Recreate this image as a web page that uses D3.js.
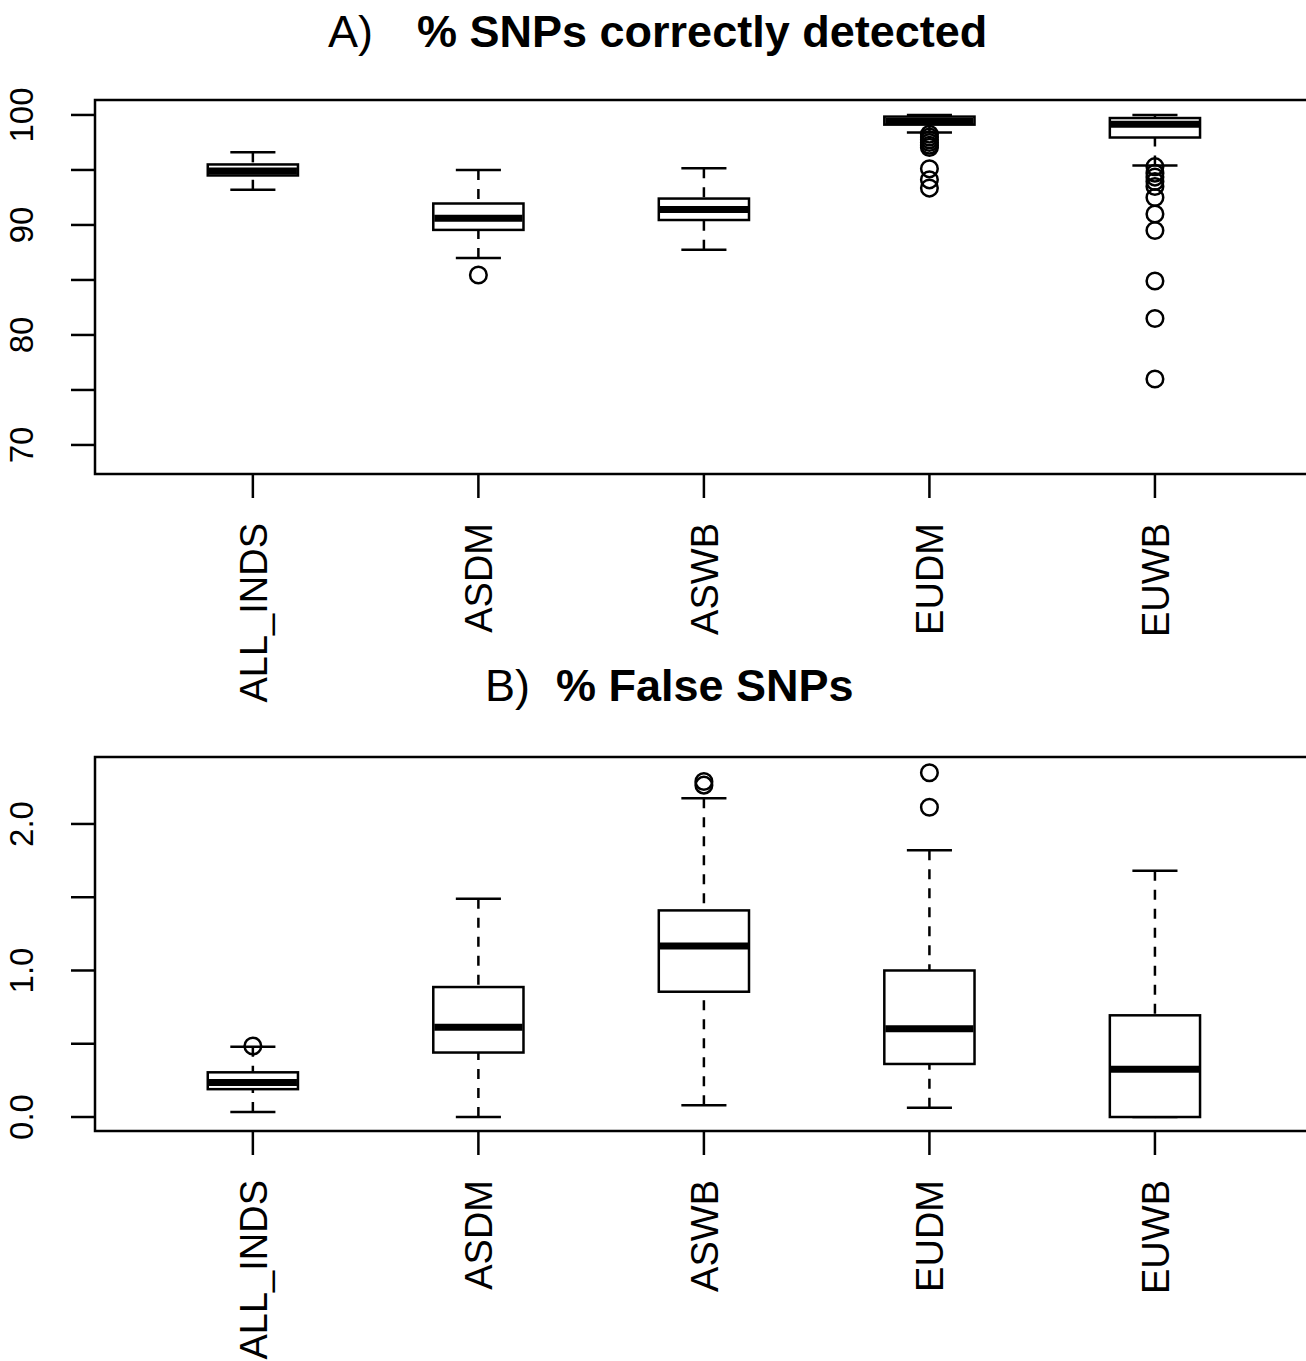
<!DOCTYPE html>
<html>
<head>
<meta charset="utf-8">
<script src="https://cdn.jsdelivr.net/npm/d3@7"></script>
<style>
    body { margin: 0; background: #fff; }
    text { font-family: "Liberation Sans", Arial, Helvetica, sans-serif; fill: #000; }
</style>
</head>
<body>
<svg id="viz"></svg>
<script>
// groups along the x axis
var categories = ["ALL_INDS", "ASDM", "ASWB", "EUDM", "EUWB"]

// A) % SNPs correctly detected  (read off the picture)
var detectedLower  = [93.2, 87.0, 87.75, 98.4, 95.4]
var detectedQ1     = [94.5, 89.55, 90.45, 99.12, 97.95]
var detectedMedian = [94.9, 90.6, 91.4, 99.4, 99.15]
var detectedQ3     = [95.5, 91.95, 92.4, 99.85, 99.72]
var detectedUpper  = [96.6, 95.0, 95.15, 100.0, 100.0]
var detectedOutliers = [
    [],
    [85.45],
    [],
    [98.25, 98.0, 97.75, 97.5, 97.25, 97.05, 95.1, 94.1, 93.35],
    [95.3, 94.7, 94.35, 93.95, 93.5, 92.5, 91.0, 89.5, 84.9, 81.5, 76.0]
]
var detectedTicks = [70, 75, 80, 85, 90, 95, 100]
var detectedTickLabels = ["70", "", "80", "", "90", "", "100"]

// B) % False SNPs
var falseLower  = [0.035, 0.0, 0.08, 0.064, 0.0]
var falseQ1     = [0.19, 0.44, 0.855, 0.362, 0.0]
var falseMedian = [0.235, 0.612, 1.167, 0.603, 0.326]
var falseQ3     = [0.305, 0.887, 1.41, 1.0, 0.694]
var falseUpper  = [0.48, 1.49, 2.175, 1.82, 1.68]
var falseOutliers = [
    [0.485],
    [],
    [2.265, 2.29],
    [2.114, 2.35],
    []
]
var falseTicks = [0, 0.5, 1, 1.5, 2]
var falseTickLabels = ["0.0", "", "1.0", "", "2.0"]

var dimensions = {
    width: 1306,
    height: 1361,
    left: 95,
    lineWidth: 2.5,
    tickLength: 24,
    yFont: 33,
    xFont: 38,
    titleFont: 45
}

var svg = d3.select("#viz")
    .attr("width", dimensions.width)
    .attr("height", dimensions.height)

// R style x axis: groups at 1..n, range padded to 0.3..5.7
var xScale = d3.scaleLinear()
               .domain([0.3, 5.7])
               .range([dimensions.left, 1312.8])
var boxHalf = xScale(1.2) - xScale(1)
var capHalf = boxHalf / 2

function drawPanel(p) {
    var yScale = d3.scaleLinear()
                   .domain(p.domain)
                   .range([p.bottom, p.top])

    var stats = categories.map((c, i) => ({
        name: c, i: i + 1,
        lo: p.lower[i], q1: p.q1[i], med: p.median[i], q3: p.q3[i], hi: p.upper[i],
        out: p.outliers[i]
    }))

    var g = svg.append("g")

    var boxes = g.selectAll(".box")
                 .data(stats)
                 .enter()
                 .append("g")
                 .attr("class", "box")

    // whiskers go from the cap toward the box, dashed
    boxes.append("line")
         .attr("x1", d => xScale(d.i)).attr("x2", d => xScale(d.i))
         .attr("y1", d => yScale(d.hi)).attr("y2", d => yScale(d.q3))
         .attr("stroke", "#000").attr("stroke-width", dimensions.lineWidth)
         .attr("stroke-dasharray", "10,9")
    boxes.append("line")
         .attr("x1", d => xScale(d.i)).attr("x2", d => xScale(d.i))
         .attr("y1", d => yScale(d.lo)).attr("y2", d => yScale(d.q1))
         .attr("stroke", "#000").attr("stroke-width", dimensions.lineWidth)
         .attr("stroke-dasharray", "10,9")

    // staples
    boxes.selectAll(".cap")
         .data(d => [{i: d.i, v: d.hi}, {i: d.i, v: d.lo}])
         .enter()
         .append("line")
         .attr("class", "cap")
         .attr("x1", d => xScale(d.i) - capHalf)
         .attr("x2", d => xScale(d.i) + capHalf)
         .attr("y1", d => yScale(d.v)).attr("y2", d => yScale(d.v))
         .attr("stroke", "#000").attr("stroke-width", dimensions.lineWidth)

    boxes.append("rect")
         .attr("x", d => xScale(d.i) - boxHalf)
         .attr("width", 2 * boxHalf)
         .attr("y", d => yScale(d.q3))
         .attr("height", d => Math.max(0, yScale(d.q1) - yScale(d.q3)))
         .attr("fill", "#fff")
         .attr("stroke", "#000").attr("stroke-width", dimensions.lineWidth)

    boxes.append("line")
         .attr("x1", d => xScale(d.i) - boxHalf + 1)
         .attr("x2", d => xScale(d.i) + boxHalf - 1)
         .attr("y1", d => yScale(d.med)).attr("y2", d => yScale(d.med))
         .attr("stroke", "#000").attr("stroke-width", 7)

    boxes.selectAll(".outlier")
         .data(d => d.out.map(v => ({i: d.i, v: v})))
         .enter()
         .append("circle")
         .attr("class", "outlier")
         .attr("cx", d => xScale(d.i))
         .attr("cy", d => yScale(d.v))
         .attr("r", 8.3)
         .attr("fill", "none")
         .attr("stroke", "#000").attr("stroke-width", dimensions.lineWidth)

    // frame (right side falls just outside the picture)
    g.append("rect")
     .attr("x", dimensions.left)
     .attr("y", p.top)
     .attr("width", xScale.range()[1] - dimensions.left)
     .attr("height", p.bottom - p.top)
     .attr("fill", "none")
     .attr("stroke", "#000").attr("stroke-width", dimensions.lineWidth)

    // y axis ticks + rotated labels
    g.selectAll(".ytick")
     .data(p.ticks)
     .enter()
     .append("line")
     .attr("x1", dimensions.left - dimensions.tickLength)
     .attr("x2", dimensions.left)
     .attr("y1", d => yScale(d)).attr("y2", d => yScale(d))
     .attr("stroke", "#000").attr("stroke-width", dimensions.lineWidth)

    g.selectAll(".ylab")
     .data(p.ticks)
     .enter()
     .append("text")
     .attr("text-anchor", "middle")
     .attr("font-size", dimensions.yFont)
     .attr("transform", d => `translate(33, ${yScale(d)}) rotate(-90)`)
     .text((d, i) => p.tickLabels[i])

    // x axis ticks + rotated group names
    g.selectAll(".xtick")
     .data(stats)
     .enter()
     .append("line")
     .attr("x1", d => xScale(d.i)).attr("x2", d => xScale(d.i))
     .attr("y1", p.bottom).attr("y2", p.bottom + dimensions.tickLength)
     .attr("stroke", "#000").attr("stroke-width", dimensions.lineWidth)

    g.selectAll(".xlab")
     .data(stats)
     .enter()
     .append("text")
     .attr("text-anchor", "end")
     .attr("dy", "0.36em")
     .attr("font-size", dimensions.xFont)
     .attr("transform", d => `translate(${xScale(d.i)}, ${p.bottom + 49}) rotate(-90)`)
     .text(d => d.name)

    // title: panel letter in plain, heading in bold
    g.append("text")
     .attr("x", p.letterX)
     .attr("y", p.titleY)
     .attr("font-size", dimensions.titleFont)
     .text(p.letter)
    g.append("text")
     .attr("x", p.titleX)
     .attr("y", p.titleY)
     .attr("font-size", dimensions.titleFont)
     .attr("font-weight", "bold")
     .text(p.title)
}

drawPanel({
    top: 100, bottom: 474,
    domain: [67.36, 101.36],
    lower: detectedLower, q1: detectedQ1, median: detectedMedian, q3: detectedQ3, upper: detectedUpper,
    outliers: detectedOutliers,
    ticks: detectedTicks, tickLabels: detectedTickLabels,
    letter: "A)", letterX: 328, title: "% SNPs correctly detected", titleX: 417, titleY: 47
})

drawPanel({
    top: 757, bottom: 1131,
    domain: [-0.0955, 2.457],
    lower: falseLower, q1: falseQ1, median: falseMedian, q3: falseQ3, upper: falseUpper,
    outliers: falseOutliers,
    ticks: falseTicks, tickLabels: falseTickLabels,
    letter: "B)", letterX: 485, title: "% False SNPs", titleX: 556, titleY: 701
})
</script>
</body>
</html>
